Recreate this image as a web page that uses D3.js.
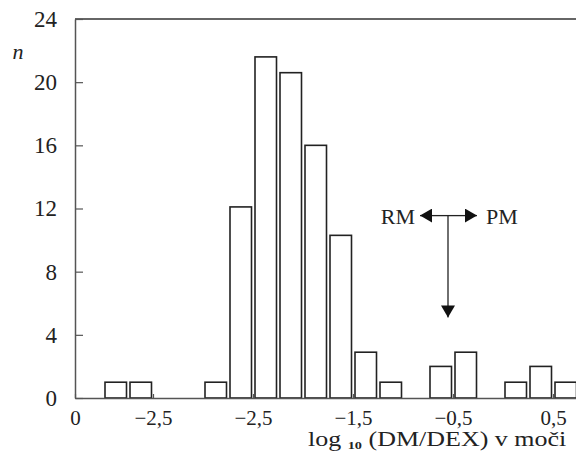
<!DOCTYPE html>
<html>
<head>
<meta charset="utf-8">
<script src="https://cdn.jsdelivr.net/npm/d3@7/dist/d3.min.js"></script>
<style>
  html, body { margin: 0; padding: 0; background: #fff; }
  svg { display: block; }
  text { font-family: "Liberation Serif", "Times New Roman", serif; fill: #222; }
</style>
</head>
<body>
<svg id="chart" width="576" height="452"></svg>
<script>
// Bin lower edges (log10 units, bin width 0.25) and counts
const binStarts = [-4.0, -3.75, -3.5, -3.25, -3.0, -2.75, -2.5, -2.25, -2.0, -1.75, -1.5, -1.25, -1.0, -0.75, -0.5, -0.25, 0.0, 0.25, 0.5];
const counts    = [1, 1, 0, 0, 1, 12.1, 21.6, 20.6, 16.0, 10.3, 2.9, 1, 0, 2, 2.9, 0, 1, 2, 1];
const binWidth = 0.25;

const yTicks = [0, 4, 8, 12, 16, 20, 24];
const xTickValues = [-4.28, -3.5, -2.5, -1.5, -0.5, 0.5];
const xTickLabels = ["0", "\u22122,5", "\u22122,5", "\u22121,5", "\u22120,5", "0,5"];

const svg = d3.select("#chart");
const x = d3.scaleLinear().domain([-4.28, 0.73]).range([75, 576]);
const y = d3.scaleLinear().domain([0, 24]).range([398, 19]);

// bars
svg.append("g").selectAll("rect")
  .data(binStarts.map((s, i) => ({ s, c: counts[i] })).filter(d => d.c > 0))
  .join("rect")
  .attr("x", d => x(d.s) + 2)
  .attr("width", d => x(d.s + binWidth) - x(d.s) - 3.5)
  .attr("y", d => y(d.c))
  .attr("height", d => y(0) - y(d.c))
  .attr("fill", "#fff")
  .attr("stroke", "#222")
  .attr("stroke-width", 1.6);

// top frame
svg.append("line")
  .attr("x1", x(-4.28)).attr("x2", 576)
  .attr("y1", y(24)).attr("y2", y(24))
  .attr("stroke", "#333").attr("stroke-width", 1.6);

// y axis
const yAxis = svg.append("g")
  .attr("transform", `translate(${x(-4.28)},0)`)
  .call(d3.axisLeft(y).tickValues(yTicks).tickSize(-8).tickSizeOuter(0).tickPadding(18));
yAxis.select(".domain").attr("stroke", "#555").attr("stroke-width", 1.5);
yAxis.selectAll(".tick line").attr("stroke", "#555").attr("stroke-width", 1.2);
yAxis.selectAll("text").style("font-size", "23px").attr("fill", "#222");

// x axis
const xAxis = svg.append("g")
  .attr("transform", `translate(0,${y(0)})`)
  .call(d3.axisBottom(x).tickValues(xTickValues).tickFormat((d, i) => xTickLabels[i])
        .tickSize(-4).tickSizeOuter(0).tickPadding(12));
xAxis.select(".domain").attr("stroke", "#555").attr("stroke-width", 1.5);
xAxis.selectAll(".tick line").attr("stroke", "#555").attr("stroke-width", 1.2);
xAxis.selectAll("text").style("font-size", "21px").attr("fill", "#222");

// y label
svg.append("text").attr("x", 18).attr("y", 59)
  .attr("text-anchor", "middle")
  .style("font-size", "22px").style("font-style", "italic").text("n");

// x title (stretched to the printed width)
const title = svg.append("text").style("font-size", "20px");
title.append("tspan").text("log ");
title.append("tspan").attr("dy", 3).style("font-size", "11px").style("font-weight", "bold").text("10");
title.append("tspan").attr("dy", -3).text(" (DM/DEX) v mo\u010Di");
const tw = title.node().getBBox().width;
title.attr("transform", `translate(308,446) scale(${259 / tw},1)`);

// arrows
const defs = svg.append("defs");
defs.append("marker").attr("id", "ah").attr("viewBox", "0 0 12 14")
  .attr("refX", 12).attr("refY", 7).attr("markerWidth", 12).attr("markerHeight", 14)
  .attr("markerUnits", "userSpaceOnUse").attr("orient", "auto")
  .append("path").attr("d", "M0,0 L12,7 L0,14 Z").attr("fill", "#111");

const ax = -0.55, ay = 11.55;
svg.append("line").attr("x1", x(ax)).attr("x2", x(-0.83)).attr("y1", y(ay)).attr("y2", y(ay))
  .attr("stroke", "#222").attr("stroke-width", 1.3).attr("marker-end", "url(#ah)");
svg.append("line").attr("x1", x(ax)).attr("x2", x(-0.26)).attr("y1", y(ay)).attr("y2", y(ay))
  .attr("stroke", "#222").attr("stroke-width", 1.3).attr("marker-end", "url(#ah)");
svg.append("line").attr("x1", x(ax)).attr("x2", x(ax)).attr("y1", y(ay)).attr("y2", y(5.1))
  .attr("stroke", "#222").attr("stroke-width", 1.3).attr("marker-end", "url(#ah)");

svg.append("text").attr("x", x(-0.88)).attr("y", y(ay) + 8)
  .attr("text-anchor", "end").style("font-size", "22px").text("RM");
svg.append("text").attr("x", x(-0.17)).attr("y", y(ay) + 8)
  .style("font-size", "22px").text("PM");
</script>
</body>
</html>
